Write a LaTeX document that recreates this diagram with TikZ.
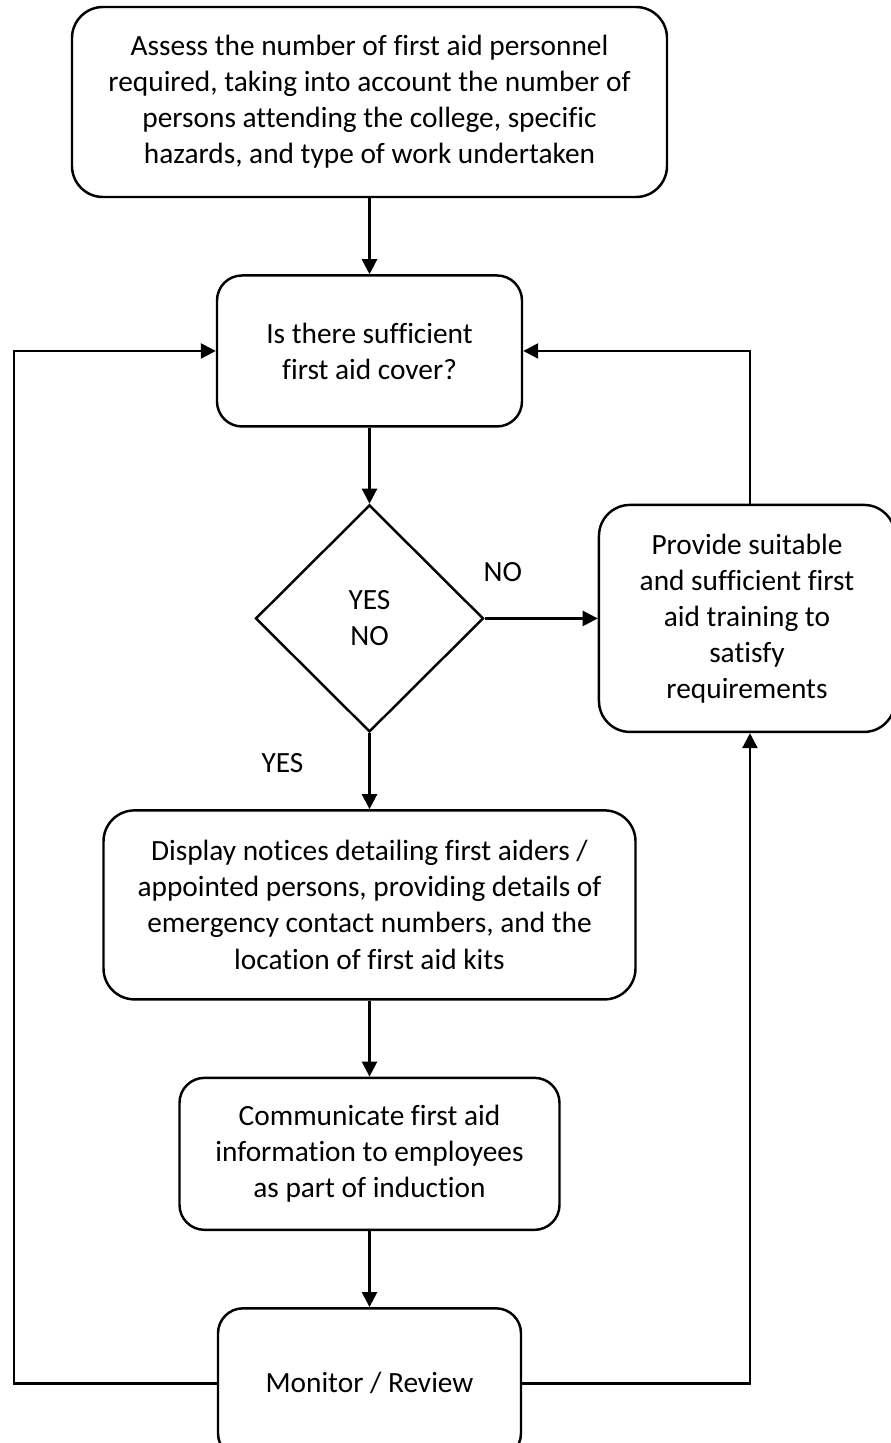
\documentclass[tikz,border=0pt]{standalone}
\usepackage{fontspec}
\setmainfont{Carlito}[Ligatures={NoCommon}]
\usepackage{xcolor}
\usepackage{tikz}
\usetikzlibrary{positioning, arrows.meta, shapes.geometric}
\definecolor{ink}{HTML}{000000}

\begin{document}
\begin{tikzpicture}[
      node distance=1.52cm and 2.26cm,
      box/.style={draw=ink, line width=1.4pt, rounded corners=0.5cm, fill=white,
                  font=\fontsize{16.7pt}{20.5pt}\selectfont, align=center,
                  inner sep=0pt},
      wide/.style={box, rounded corners=0.62cm},
      choice/.style={diamond, aspect=1, draw=ink, line width=1.4pt, inner sep=0pt,
                     font=\fontsize{16.7pt}{20.5pt}\selectfont, align=center,
                     minimum width=4.56cm, minimum height=4.54cm},
      lbl/.style={font=\fontsize{16.7pt}{20.5pt}\selectfont, inner sep=0pt},
      arr/.style={-{Triangle[length=0.3cm, width=0.3cm]}, line width=1.4pt, draw=ink}]

    \useasboundingbox (0,0) rectangle (17.82,-28.86);

    \node[wide, minimum width=11.9cm, minimum height=3.8cm] (assess) at (7.39,-2.04)
        {Assess the number of first aid personnel\\required, taking into account the number of\\persons attending the college, specific\\hazards, and type of work undertaken};
    \node[box, minimum width=6.1cm, minimum height=3.02cm, below=of assess] (cover)
        {Is there sufficient\\first aid cover?};
    \node[choice, below=of cover] (dec) {YES\\NO};
    \node[wide, minimum width=5.92cm, minimum height=4.54cm, right=of dec] (train)
        {Provide suitable\\and sufficient first\\aid training to\\satisfy\\requirements};
    \node[wide, minimum width=10.64cm, minimum height=3.78cm, below=of dec] (notice)
        {Display notices detailing first aiders /\\appointed persons, providing details of\\emergency contact numbers, and the\\location of first aid kits};
    \node[box, minimum width=7.6cm, minimum height=3.04cm, below=of notice] (induct)
        {Communicate first aid\\information to employees\\as part of induction};
    \node[box, minimum width=6.06cm, minimum height=3cm, below=of induct] (review)
        {Monitor / Review};

    \draw[arr] (assess) -- (cover);
    \draw[arr] (cover) -- (dec);
    \draw[arr] (dec) -- node[lbl, pos=0.16, yshift=0.92cm] {NO} (train);
    \draw[arr] (dec) -- node[lbl, pos=0.39, xshift=-1.74cm] {YES} (notice);
    \draw[arr] (notice) -- (induct);
    \draw[arr] (induct) -- (review);
    % review loops back to the cover check
    \draw[arr] (review.west) -- ++(-4.06,0) |- (cover.west);
    \draw[arr] (review.east) -| ([xshift=0.06cm]train.south);
    \draw[arr] ([xshift=0.06cm]train.north) |- (cover.east);
  \end{tikzpicture}
\end{document}
